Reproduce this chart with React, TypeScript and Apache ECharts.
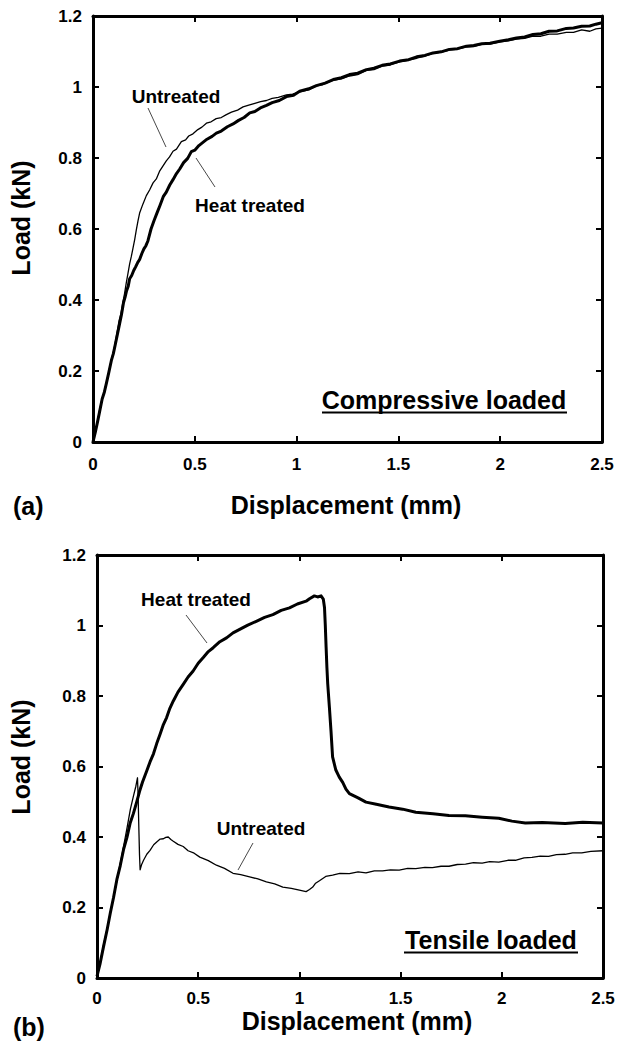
import React, { useEffect, useRef } from "react";
import * as echarts from "echarts";

// ---- Data (displacement mm, load kN) ----
const compUntreated: number[][] = [
  [0, 0], [0.012, 0.032], [0.022, 0.058], [0.033, 0.092], [0.045, 0.122], [0.056, 0.143], [0.066, 0.168],
  [0.078, 0.198], [0.09, 0.232], [0.1, 0.253], [0.107, 0.272], [0.118, 0.308], [0.128, 0.342], [0.138, 0.363],
  [0.147, 0.394], [0.155, 0.418], [0.163, 0.447], [0.172, 0.476], [0.18, 0.502], [0.188, 0.522], [0.196, 0.545],
  [0.205, 0.571], [0.213, 0.598], [0.221, 0.623], [0.229, 0.645], [0.245, 0.67], [0.262, 0.694], [0.278, 0.71],
  [0.295, 0.73], [0.311, 0.741], [0.328, 0.764], [0.344, 0.778], [0.36, 0.792], [0.376, 0.803], [0.393, 0.819],
  [0.41, 0.825], [0.434, 0.846], [0.455, 0.851], [0.47, 0.862], [0.491, 0.868], [0.515, 0.88], [0.535, 0.887],
  [0.557, 0.898], [0.58, 0.902], [0.605, 0.911], [0.63, 0.914], [0.655, 0.922], [0.68, 0.929], [0.71, 0.935],
  [0.737, 0.944], [0.765, 0.949], [0.795, 0.954], [0.823, 0.959], [0.852, 0.962], [0.88, 0.968], [0.91, 0.971],
  [0.95, 0.978], [0.98, 0.98], [1.02, 0.987], [1.06, 0.992], [1.097, 1.003], [1.13, 1.007], [1.18, 1.019],
  [1.22, 1.023], [1.26, 1.031], [1.3, 1.035], [1.343, 1.047], [1.38, 1.049], [1.42, 1.059], [1.46, 1.062],
  [1.506, 1.071], [1.55, 1.076], [1.59, 1.081], [1.63, 1.087], [1.67, 1.095], [1.71, 1.098], [1.75, 1.104],
  [1.79, 1.107], [1.834, 1.113], [1.87, 1.114], [1.91, 1.121], [1.95, 1.121], [1.998, 1.127], [2.04, 1.13],
  [2.08, 1.135], [2.12, 1.137], [2.161, 1.143], [2.2, 1.143], [2.24, 1.149], [2.28, 1.149], [2.325, 1.154],
  [2.36, 1.154], [2.4, 1.161], [2.44, 1.157], [2.47, 1.164], [2.5, 1.166],
];

const compHeat: number[][] = [
  [0, 0], [0.012, 0.029], [0.022, 0.056], [0.033, 0.087], [0.045, 0.121], [0.056, 0.141], [0.066, 0.166],
  [0.078, 0.197], [0.09, 0.229], [0.1, 0.249], [0.11, 0.276], [0.12, 0.304], [0.13, 0.331], [0.14, 0.359],
  [0.15, 0.393], [0.158, 0.409], [0.165, 0.426], [0.173, 0.439], [0.18, 0.46], [0.19, 0.469], [0.2, 0.483],
  [0.21, 0.494], [0.22, 0.506], [0.229, 0.514], [0.24, 0.531], [0.25, 0.544], [0.26, 0.553], [0.27, 0.567],
  [0.285, 0.6], [0.3, 0.624], [0.315, 0.646], [0.328, 0.665], [0.345, 0.691], [0.36, 0.704], [0.377, 0.724],
  [0.393, 0.739], [0.41, 0.756], [0.426, 0.769], [0.445, 0.787], [0.465, 0.799], [0.483, 0.818], [0.5, 0.822],
  [0.52, 0.835], [0.54, 0.844], [0.56, 0.853], [0.585, 0.861], [0.606, 0.87], [0.63, 0.876], [0.66, 0.888],
  [0.688, 0.896], [0.715, 0.906], [0.742, 0.914], [0.77, 0.927], [0.795, 0.931], [0.822, 0.941], [0.852, 0.948],
  [0.88, 0.956], [0.915, 0.962], [0.95, 0.973], [0.985, 0.977], [1.015, 0.988], [1.06, 0.995], [1.097, 1.004],
  [1.14, 1.011], [1.18, 1.021], [1.22, 1.026], [1.26, 1.035], [1.3, 1.039], [1.343, 1.049], [1.38, 1.053],
  [1.42, 1.061], [1.46, 1.065], [1.506, 1.073], [1.55, 1.077], [1.59, 1.085], [1.63, 1.089], [1.67, 1.096],
  [1.71, 1.099], [1.75, 1.106], [1.79, 1.108], [1.834, 1.115], [1.87, 1.117], [1.91, 1.122], [1.95, 1.123],
  [1.998, 1.129], [2.04, 1.133], [2.08, 1.138], [2.12, 1.141], [2.161, 1.148], [2.2, 1.15], [2.24, 1.157],
  [2.28, 1.158], [2.325, 1.165], [2.36, 1.166], [2.4, 1.171], [2.44, 1.172], [2.47, 1.177], [2.5, 1.181],
];

const tensUntreated: number[][] = [
  [0, 0], [0.016, 0.045], [0.033, 0.096], [0.05, 0.139], [0.066, 0.186], [0.085, 0.239], [0.107, 0.301],
  [0.13, 0.369], [0.15, 0.431], [0.165, 0.479], [0.18, 0.516], [0.192, 0.544], [0.2, 0.568], [0.203, 0.52],
  [0.207, 0.42], [0.21, 0.35], [0.213, 0.307], [0.22, 0.321], [0.23, 0.334], [0.246, 0.351], [0.262, 0.362],
  [0.28, 0.378], [0.295, 0.386], [0.312, 0.394], [0.328, 0.395], [0.34, 0.399], [0.352, 0.4], [0.365, 0.393],
  [0.377, 0.388], [0.4, 0.379], [0.426, 0.373], [0.45, 0.361], [0.48, 0.354], [0.508, 0.343], [0.55, 0.333],
  [0.59, 0.32], [0.63, 0.311], [0.672, 0.297], [0.71, 0.293], [0.754, 0.287], [0.795, 0.281], [0.837, 0.273],
  [0.878, 0.267], [0.918, 0.258], [0.96, 0.254], [1.0, 0.249], [1.033, 0.245], [1.05, 0.251], [1.066, 0.258],
  [1.08, 0.269], [1.099, 0.276], [1.13, 0.288], [1.164, 0.292], [1.2, 0.297], [1.247, 0.296], [1.29, 0.301],
  [1.329, 0.298], [1.37, 0.304], [1.411, 0.304], [1.45, 0.307], [1.493, 0.306], [1.535, 0.311], [1.575, 0.31],
  [1.62, 0.314], [1.657, 0.313], [1.7, 0.317], [1.739, 0.317], [1.78, 0.322], [1.821, 0.323], [1.86, 0.327],
  [1.903, 0.326], [1.94, 0.33], [1.985, 0.329], [2.03, 0.334], [2.067, 0.334], [2.11, 0.341], [2.149, 0.342],
  [2.19, 0.346], [2.231, 0.345], [2.27, 0.35], [2.313, 0.351], [2.35, 0.355], [2.395, 0.355], [2.44, 0.359],
  [2.5, 0.361],
];

const tensHeat: number[][] = [
  [0, 0.005], [0.015, 0.04], [0.033, 0.091], [0.05, 0.137], [0.066, 0.185], [0.082, 0.229], [0.098, 0.279],
  [0.115, 0.319], [0.131, 0.364], [0.148, 0.399], [0.164, 0.44], [0.18, 0.467], [0.197, 0.501], [0.21, 0.529],
  [0.225, 0.556], [0.246, 0.588], [0.262, 0.613], [0.279, 0.636], [0.295, 0.665], [0.312, 0.692], [0.328, 0.719],
  [0.344, 0.739], [0.36, 0.765], [0.377, 0.786], [0.4, 0.811], [0.426, 0.833], [0.45, 0.854], [0.475, 0.871],
  [0.5, 0.893], [0.525, 0.909], [0.55, 0.926], [0.574, 0.937], [0.607, 0.954], [0.64, 0.965], [0.672, 0.979],
  [0.705, 0.989], [0.745, 1.001], [0.787, 1.012], [0.828, 1.023], [0.869, 1.031], [0.91, 1.043], [0.951, 1.05],
  [0.99, 1.061], [1.033, 1.069], [1.05, 1.076], [1.074, 1.084], [1.09, 1.081], [1.107, 1.084], [1.118, 1.075],
  [1.124, 1.051], [1.128, 1.0], [1.132, 0.938], [1.136, 0.88], [1.14, 0.834], [1.148, 0.77], [1.156, 0.702],
  [1.164, 0.627], [1.18, 0.59], [1.197, 0.57], [1.214, 0.555], [1.23, 0.536], [1.247, 0.523], [1.29, 0.511],
  [1.329, 0.499], [1.38, 0.493], [1.443, 0.485], [1.51, 0.479], [1.575, 0.47], [1.66, 0.466], [1.739, 0.461],
  [1.82, 0.46], [1.903, 0.456], [1.985, 0.453], [2.05, 0.445], [2.116, 0.44], [2.2, 0.441], [2.313, 0.438],
  [2.4, 0.442], [2.5, 0.44],
];

const xTicks = { min: 0, max: 2.5, interval: 0.5 };
const yTicks = { min: 0, max: 1.2, interval: 0.2 };

const FONT = "'Liberation Sans', Arial, Helvetica, sans-serif";

export default function App() {
  const ref = useRef<HTMLDivElement>(null);

  useEffect(() => {
    if (!ref.current) return;
    const chart = echarts.init(ref.current, null, { renderer: "svg" });

    const axisLine = { show: true, onZero: false, lineStyle: { color: "#000", width: 3 } };
    const axisTick = { show: true, inside: true, length: 6, lineStyle: { color: "#000", width: 2 } };
    const labelStyle = { color: "#000", fontSize: 17, fontWeight: "bold" as const, fontFamily: FONT };

    const makeX = (gridIndex: number, position: "bottom" | "top", showLabel: boolean, margin: number) => ({
      type: "value",
      gridIndex,
      position,
      min: xTicks.min,
      max: xTicks.max,
      interval: xTicks.interval,
      axisLine,
      axisTick,
      splitLine: { show: false },
      axisLabel: { show: showLabel, margin, showMinLabel: true, showMaxLabel: true, ...labelStyle },
    });
    const makeY = (gridIndex: number, position: "left" | "right", showLabel: boolean) => ({
      type: "value",
      gridIndex,
      position,
      min: yTicks.min,
      max: yTicks.max,
      interval: yTicks.interval,
      axisLine,
      axisTick,
      splitLine: { show: false },
      axisLabel: { show: showLabel, margin: 11, showMinLabel: true, showMaxLabel: true, ...labelStyle },
    });

    const bigText = (text: string, x: number, y: number, align = "center", rotation = 0) => ({
      type: "text",
      x,
      y,
      rotation,
      style: {
        text,
        fill: "#000",
        font: `bold 25px ${FONT}`,
        textAlign: align,
        textVerticalAlign: "middle",
      },
    });
    const midText = (text: string, x: number, y: number) => ({
      type: "text",
      x,
      y,
      style: {
        text,
        fill: "#000",
        font: `bold 19px ${FONT}`,
        textAlign: "center",
        textVerticalAlign: "middle",
      },
    });
    const leader = (x1: number, y1: number, x2: number, y2: number) => ({
      type: "line",
      shape: { x1, y1, x2, y2 },
      style: { stroke: "#333", lineWidth: 0.9 },
    });
    const underline = (x1: number, x2: number, y: number) => ({
      type: "line",
      shape: { x1, y1: y, x2, y2: y },
      style: { stroke: "#000", lineWidth: 2 },
    });

    const lineSeries = (data: number[][], idx: number, width: number, name: string) => ({
      type: "line",
      name,
      data,
      xAxisIndex: idx * 2,
      yAxisIndex: idx * 2,
      showSymbol: false,
      symbol: "none",
      lineStyle: { color: "#000", width, join: "round" },
      z: width > 2 ? 2 : 3,
    });

    chart.setOption({
      animation: false,
      backgroundColor: "#fff",
      grid: [
        { left: 93, top: 16, width: 509, height: 426 },
        { left: 97, top: 555, width: 506, height: 423 },
      ],
      xAxis: [
        makeX(0, "bottom", true, 14),
        makeX(0, "top", false, 8),
        makeX(1, "bottom", true, 12),
        makeX(1, "top", false, 8),
      ],
      yAxis: [makeY(0, "left", true), makeY(0, "right", false), makeY(1, "left", true), makeY(1, "right", false)],
      series: [
        lineSeries(compHeat, 0, 3, "Heat treated (compressive)"),
        lineSeries(compUntreated, 0, 1.3, "Untreated (compressive)"),
        lineSeries(tensHeat, 1, 3, "Heat treated (tensile)"),
        lineSeries(tensUntreated, 1, 1.3, "Untreated (tensile)"),
      ],
      graphic: [
        bigText("Load (kN)", 21, 218, "center", Math.PI / 2),
        bigText("Load (kN)", 21, 757, "center", Math.PI / 2),
        bigText("Displacement (mm)", 346, 505),
        bigText("Displacement (mm)", 357, 1021),
        bigText("(a)", 13, 506, "left"),
        bigText("(b)", 13, 1027, "left"),
        bigText("Compressive loaded", 444, 400),
        underline(322, 567, 412.5),
        bigText("Tensile loaded", 491, 940),
        underline(404, 578, 952.5),
        midText("Untreated", 176, 96),
        leader(148, 108, 166, 147),
        midText("Heat treated", 250, 205),
        leader(196, 158, 215, 187),
        midText("Heat treated", 196, 599),
        leader(186, 615, 207, 643),
        midText("Untreated", 261, 828),
        leader(253, 843, 238, 870),
      ],
    });

    return () => chart.dispose();
  }, []);

  return (
    <div
      ref={ref}
      style={{ position: "absolute", left: 0, top: 0, width: 618, height: 1042, background: "#fff" }}
    />
  );
}
